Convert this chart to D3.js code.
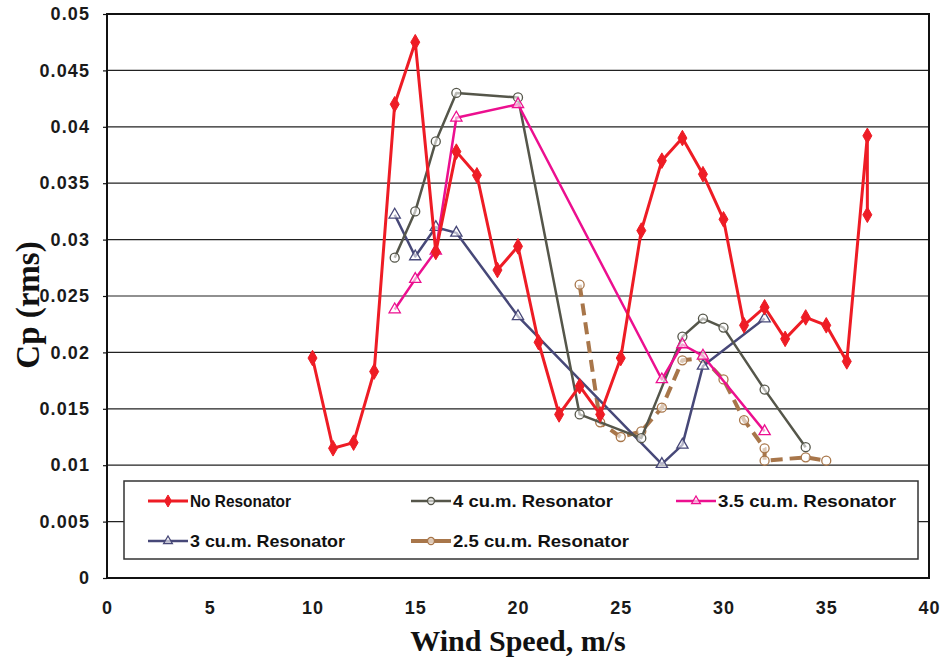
<!DOCTYPE html>
<html><head><meta charset="utf-8">
<script src="https://cdn.jsdelivr.net/npm/d3@7"></script>
<style>body{margin:0;background:#fff}svg{display:block}</style>
</head><body>
<script>
const xTicks = [0,5,10,15,20,25,30,35,40];
const yTicks = [0,0.005,0.01,0.015,0.02,0.025,0.03,0.035,0.04,0.045,0.05];
const yTickLabels = ["0","0.005","0.01","0.015","0.02","0.025","0.03","0.035","0.04","0.045","0.05"];

const noResX = [10,11,12,13,14,15,16,17,18,19,20,21,22,23,24,25,26,27,28,29,30,31,32,33,34,35,36,37,37];
const noResY = [0.0195,0.0115,0.012,0.0183,0.042,0.0475,0.0289,0.0378,0.0357,0.0273,0.0294,0.0209,0.0145,0.017,0.0145,0.0195,0.0308,0.037,0.039,0.0358,0.0318,0.0224,0.024,0.0212,0.0231,0.0224,0.0192,0.0392,0.0322];

const r4X = [14,15,16,17,20,23,26,28,29,30,32,34];
const r4Y = [0.0284,0.0325,0.0387,0.043,0.0426,0.0145,0.0124,0.0214,0.023,0.0222,0.0167,0.0116];

const r35X = [14,15,16,17,20,27,28,29,32];
const r35Y = [0.0238,0.0265,0.029,0.0408,0.042,0.0176,0.0207,0.0197,0.013];

const r3X = [14,15,16,17,20,27,28,29,32];
const r3Y = [0.0322,0.0285,0.0311,0.0306,0.0232,0.0101,0.0118,0.0188,0.023];

const r25X = [23,24,25,26,27,28,29,30,31,32,32,34,35];
const r25Y = [0.026,0.0138,0.0125,0.013,0.0151,0.0193,0.0195,0.0176,0.014,0.0115,0.0104,0.0107,0.0104];

const seriesNames = ["No Resonator","4 cu.m. Resonator","3.5 cu.m. Resonator","3 cu.m. Resonator","2.5 cu.m. Resonator"];

const W = 943, H = 661;
const M = {left:107, top:14, right:929, bottom:578};
const svg = d3.select("body").append("svg").attr("width",W).attr("height",H);
const x = d3.scaleLinear().domain([0,40]).range([M.left,M.right]);
const y = d3.scaleLinear().domain([0,0.05]).range([M.bottom,M.top]);

// gridlines
svg.append("g").selectAll("line").data(yTicks.slice(1,-1)).join("line")
  .attr("x1",M.left).attr("x2",M.right).attr("y1",d=>y(d)).attr("y2",d=>y(d))
  .attr("stroke","#222").attr("stroke-width",1.2);

const tickFont = "Liberation Sans, Arial, sans-serif";
// y axis
const yAxis = d3.axisLeft(y).tickValues(yTicks).tickSize(4).tickFormat((d,i)=>yTickLabels[i]);
const ya = svg.append("g").attr("transform",`translate(${M.left},0)`).call(yAxis);
ya.select(".domain").remove();
ya.selectAll("line").attr("stroke","#111").attr("stroke-width",1.2);
ya.selectAll("text").attr("x",-17).attr("font-family",tickFont)
  .attr("font-weight","bold").attr("font-size",18).attr("letter-spacing",1.1).attr("fill","#1a1a1a");

// x axis
const xAxis = d3.axisBottom(x).tickValues(xTicks).tickSize(0).tickFormat(d3.format("d"));
const xa = svg.append("g").attr("transform",`translate(0,${M.bottom})`).call(xAxis);
xa.select(".domain").remove();
xa.selectAll("text").attr("dy",0).attr("y",36).attr("font-family",tickFont)
  .attr("font-weight","bold").attr("font-size",18).attr("letter-spacing",1).attr("fill","#1a1a1a");

// frame
svg.append("rect").attr("x",M.left).attr("y",M.top).attr("width",M.right-M.left).attr("height",M.bottom-M.top)
  .attr("fill","none").attr("stroke","#111").attr("stroke-width",2);

// titles
svg.append("text").attr("x",518).attr("y",651).attr("text-anchor","middle")
  .attr("font-family","Liberation Serif, Times New Roman, serif").attr("font-weight","bold").attr("font-size",30)
  .attr("fill","#111").text("Wind Speed, m/s");
svg.append("text").attr("transform","translate(39,305) rotate(-90)").attr("text-anchor","middle")
  .attr("font-family","Liberation Serif, Times New Roman, serif").attr("font-weight","bold").attr("font-size",33)
  .attr("fill","#111").text("Cp (rms)");

const series = [
  {name:seriesNames[0], xs:noResX, ys:noResY, color:"#ee1c25", w:3, dash:null, marker:"diamond"},
  {name:seriesNames[1], xs:r4X, ys:r4Y, color:"#55564a", w:2.5, dash:null, marker:"circle"},
  {name:seriesNames[2], xs:r35X, ys:r35Y, color:"#ec0f8f", w:2.5, dash:null, marker:"triangle"},
  {name:seriesNames[3], xs:r3X, ys:r3Y, color:"#474878", w:2.5, dash:null, marker:"triangle"},
  {name:seriesNames[4], xs:r25X, ys:r25Y, color:"#a8764a", w:4, dash:"12,7", marker:"circle"}
];
const drawOrder = [4,3,1,2,0];

const line = d3.line().x(d=>x(d[0])).y(d=>y(d[1]));
function marker(g, type, color, cx, cy, small){
  const k = small ? 0.6 : 1;
  if(type==="diamond"){
    g.append("path").attr("d",d3.symbol(d3.symbolDiamond,70*k)()).attr("transform",`translate(${cx},${cy})`)
      .attr("fill",color).attr("stroke",color).attr("stroke-width",1);
  } else if(type==="circle"){
    g.append("circle").attr("cx",cx).attr("cy",cy).attr("r",4.5*Math.sqrt(k)).attr("fill","#fff").attr("fill-opacity",0.6)
      .attr("stroke",color).attr("stroke-width",1.3);
  } else {
    g.append("path").attr("d",d3.symbol(d3.symbolTriangle,55*k)()).attr("transform",`translate(${cx},${cy})`)
      .attr("fill","#fff").attr("fill-opacity",0.6).attr("stroke",color).attr("stroke-width",1.3);
  }
}
const plot = svg.append("g");
drawOrder.forEach(i=>{
  const s = series[i];
  const pts = s.xs.map((v,k)=>[v,s.ys[k]]);
  plot.append("path").attr("d",line(pts)).attr("fill","none").attr("stroke",s.color)
    .attr("stroke-width",s.w).attr("stroke-dasharray",s.dash).attr("stroke-linejoin","round");
  const mg = plot.append("g");
  pts.forEach(p=>marker(mg,s.marker,s.color,x(p[0]),y(p[1])));
});

// legend
const lg = svg.append("g");
lg.append("rect").attr("x",124).attr("y",481).attr("width",794).attr("height",78)
  .attr("fill","#fff").attr("stroke","#333").attr("stroke-width",1.5);
const legPos = [[148,501],[411,501],[676,501],[148,541],[411,541]];
const legTextW = [101,160,178,155,176];
series.forEach((s,i)=>{
  const [lx,ly] = legPos[i];
  lg.append("line").attr("x1",lx).attr("x2",lx+40).attr("y1",ly).attr("y2",ly)
    .attr("stroke",s.color).attr("stroke-width",s.w);
  marker(lg,s.marker,s.color,lx+20,ly,true);
  lg.append("text").attr("x",lx+42).attr("y",ly+6).attr("font-family","Liberation Sans Narrow, Liberation Sans, Arial, sans-serif")
    .attr("font-weight","bold").attr("font-size",17).attr("fill","#111")
    .attr("textLength",legTextW[i]).attr("lengthAdjust","spacingAndGlyphs").text(s.name);
});
</script>
</body></html>
